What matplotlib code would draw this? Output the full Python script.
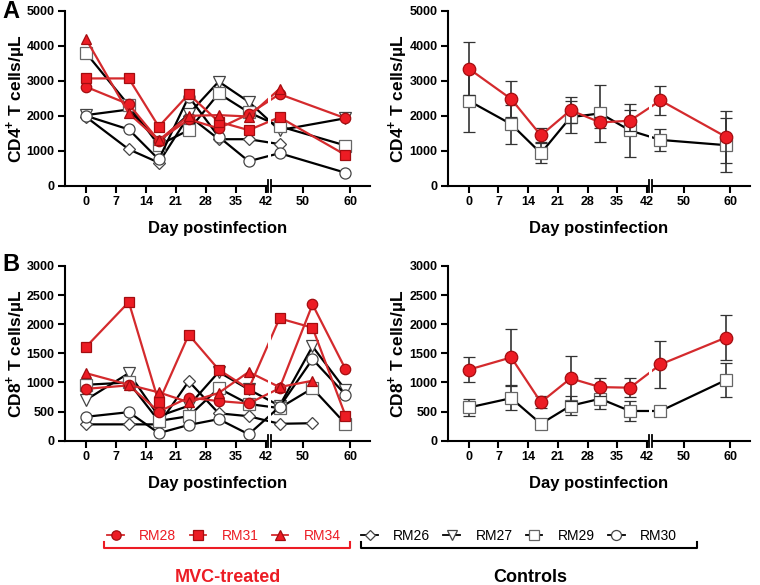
import numpy as np
import matplotlib
matplotlib.use('Agg')
import matplotlib.pyplot as plt
from matplotlib.lines import Line2D

plt.rcParams['font.family'] = ['Liberation Sans', 'DejaVu Sans']
plt.rcParams['mathtext.fontset'] = 'custom'
plt.rcParams['mathtext.rm'] = 'Liberation Sans'
plt.rcParams['mathtext.bf'] = 'Liberation Sans:bold'

# days sampled
days_a = [0, 10, 17, 24, 31, 38, 45, 59]
days_b = [0, 10, 17, 24, 31, 38, 45, 52, 59]
days_mean = [0, 10, 17, 24, 31, 38, 45, 59]
xticks = [0, 7, 14, 21, 28, 35, 42, 50, 60]

# CD4 per animal (panel A left)
cd4_rm28 = [2830, 2330, 1290, 1900, 1640, 2050, 2620, 1930]
cd4_rm31 = [3070, 3070, 1690, 2620, 1830, 1590, 1960, 880]
cd4_rm34 = [4200, 2070, 1300, 2000, 2020, 1980, 2770, np.nan]
cd4_rm26 = [1970, 1040, 660, 2000, 1330, 1330, 1190, np.nan]
cd4_rm27 = [2020, 2180, 1250, 2050, 2980, 2400, 1590, 1930]
cd4_rm29 = [3800, 2300, 1160, 1590, 2640, 2100, 1700, 1150]
cd4_rm30 = [2000, 1610, 750, 2550, 1400, 700, 930, 370]

# CD4 group means (panel A right)
cd4_mvc_mean = [3350, 2480, 1440, 2160, 1810, 1860, 2440, 1400]
cd4_mvc_sd = [750, 520, 200, 370, 150, 300, 425, 740]
cd4_ctrl_mean = [2430, 1760, 930, 1960, 2070, 1580, 1310, 1160]
cd4_ctrl_sd = [900, 560, 290, 450, 815, 750, 320, 780]

# CD8 per animal (panel B left)
cd8_rm28 = [890, 950, 500, 740, 680, 640, 900, 2340, 1230]
cd8_rm31 = [1610, 2380, 660, 1820, 1220, 890, 2100, 1940, 430]
cd8_rm34 = [1160, 960, 830, 660, 820, 1180, 920, 1030, np.nan]
cd8_rm26 = [280, 280, 280, 1020, 470, 420, 290, 300, np.nan]
cd8_rm27 = [700, 1160, 420, 600, 1180, 880, 600, 1620, 870]
cd8_rm29 = [960, 1000, 340, 420, 900, 630, 560, 900, 290]
cd8_rm30 = [410, 490, 130, 270, 370, 110, 580, 1400, 790]

# CD8 group means (panel B right)
cd8_mvc_mean = [1220, 1430, 660, 1070, 920, 910, 1310, 1770]
cd8_mvc_sd = [210, 480, 100, 380, 150, 160, 400, 380]
cd8_ctrl_mean = [570, 730, 290, 600, 720, 510, 510, 1040]
cd8_ctrl_sd = [150, 210, 90, 160, 170, 170, 0, 290]

RED = '#ec1c24'
REDLINE = '#d42a2d'
REDEDGE = '#a30d10'

sty = {
    'RM28': dict(marker='o', ms=7.5, mfc=RED, mec=REDEDGE, color=REDLINE),
    'RM31': dict(marker='s', ms=7.5, mfc=RED, mec=REDEDGE, color=REDLINE),
    'RM34': dict(marker='^', ms=7.5, mfc=RED, mec=REDEDGE, color=REDLINE),
    'RM26': dict(marker='D', ms=6, mfc='white', mec='#444444', color='black'),
    'RM27': dict(marker='v', ms=8, mfc='white', mec='#444444', color='black'),
    'RM29': dict(marker='s', ms=8, mfc='white', mec='#666666', color='black'),
    'RM30': dict(marker='o', ms=8, mfc='white', mec='#444444', color='black'),
}


def fwd(d):
    d = np.asarray(d, dtype=float)
    return np.where(d <= 43, d, 43 + (d - 43) * 1.1)


def inv(p):
    p = np.asarray(p, dtype=float)
    return np.where(p <= 43, p, 43 + (p - 43) / 1.1)


def setup(ax, ymax, ystep, ylabel, labx):
    ax.set_xscale('function', functions=(fwd, inv))
    ax.set_xlim(-4.9, 64.2)
    ax.set_ylim(0, ymax)
    ax.set_xticks(xticks)
    ax.set_xticklabels([str(t) for t in xticks])
    ax.set_yticks(np.arange(0, ymax + 1, ystep))
    ax.minorticks_off()
    for s in ['top', 'right']:
        ax.spines[s].set_visible(False)
    for s in ['left', 'bottom']:
        ax.spines[s].set_linewidth(1.5)
    ax.tick_params(direction='out', length=5, width=1.5, labelsize=9, pad=2.5)
    for lbl in ax.get_xticklabels() + ax.get_yticklabels():
        lbl.set_fontweight('bold')
    ax.set_xlabel('Day postinfection', fontsize=12, fontweight='bold', labelpad=9)
    ax.set_ylabel(ylabel, fontsize=12.5, fontweight='bold')
    ax.yaxis.set_label_coords(labx, 0.5)
    # axis break
    ax.axvspan(42.4, 43.2, ymin=-0.02, ymax=1, color='white', zorder=3, clip_on=False, lw=0)
    for xb in [42.4, 43.2]:
        ax.plot([xb, xb], [-0.035, 0.035], transform=ax.get_xaxis_transform(),
                color='black', lw=1.3, clip_on=False, zorder=4)


def individual(ax, days, data):
    for name in ['RM26', 'RM27', 'RM29', 'RM30', 'RM28', 'RM31', 'RM34']:
        ax.plot(days, data[name], lw=1.6, mew=0.9, zorder=2, **sty[name])


def means(ax, m_mean, m_sd, c_mean, c_sd):
    ax.errorbar(days_mean, c_mean, yerr=c_sd, color='black', lw=1.6, marker='s', ms=9,
                mfc='white', mec='#666666', mew=0.9, ecolor='#333333', elinewidth=1.2,
                capsize=4, capthick=1.2, zorder=2)
    ax.errorbar(days_mean, m_mean, yerr=m_sd, color=REDLINE, lw=1.6, marker='o', ms=9,
                mfc=RED, mec=REDEDGE, mew=0.9, ecolor='#333333', elinewidth=1.2,
                capsize=4, capthick=1.2, zorder=2.2)


fig = plt.figure(figsize=(7.6, 5.85), dpi=100)
ax1 = fig.add_axes([0.0855, 0.6826, 0.4013, 0.2986])
ax2 = fig.add_axes([0.5895, 0.6826, 0.3974, 0.2986])
ax3 = fig.add_axes([0.0855, 0.2467, 0.4013, 0.2986])
ax4 = fig.add_axes([0.5895, 0.2467, 0.3974, 0.2986])

cd4_lab = r'CD4$^{\mathbf{+}}$ T cells/µL'
cd8_lab = r'CD8$^{\mathbf{+}}$ T cells/µL'

individual(ax1, days_a, {'RM28': cd4_rm28, 'RM31': cd4_rm31, 'RM34': cd4_rm34,
                         'RM26': cd4_rm26, 'RM27': cd4_rm27, 'RM29': cd4_rm29, 'RM30': cd4_rm30})
means(ax2, cd4_mvc_mean, cd4_mvc_sd, cd4_ctrl_mean, cd4_ctrl_sd)
individual(ax3, days_b, {'RM28': cd8_rm28, 'RM31': cd8_rm31, 'RM34': cd8_rm34,
                         'RM26': cd8_rm26, 'RM27': cd8_rm27, 'RM29': cd8_rm29, 'RM30': cd8_rm30})
means(ax4, cd8_mvc_mean, cd8_mvc_sd, cd8_ctrl_mean, cd8_ctrl_sd)

setup(ax1, 5000, 1000, cd4_lab, -0.125)
setup(ax2, 5000, 1000, cd4_lab, -0.128)
setup(ax3, 3000, 500, cd8_lab, -0.125)
setup(ax4, 3000, 500, cd8_lab, -0.128)

fig.text(2 / 760, 1 - 11 / 585, 'A', fontsize=17, fontweight='bold', ha='left', va='center')
fig.text(2 / 760, 1 - 265 / 585, 'B', fontsize=17, fontweight='bold', ha='left', va='center')

# legend
red_names = ['RM28', 'RM31', 'RM34']
ctrl_names = ['RM26', 'RM27', 'RM29', 'RM30']


def handle(name):
    s = dict(sty[name])
    s['ms'] = s['ms'] * 0.9
    return Line2D([], [], lw=1.3, mew=0.9, **s)


leg_kw = dict(loc='center', frameon=False, fontsize=10, handlelength=1.2,
              handletextpad=1.1, columnspacing=0.95, borderpad=0, borderaxespad=0)
lg1 = fig.legend([handle(n) for n in red_names], red_names, ncol=3,
                 bbox_to_anchor=(224 / 760, 1 - 536 / 585), **leg_kw)
for t in lg1.get_texts():
    t.set_color(RED)
lg2 = fig.legend([handle(n) for n in ctrl_names], ctrl_names, ncol=4,
                 bbox_to_anchor=(519 / 760, 1 - 536 / 585), **leg_kw)

fig.add_artist(Line2D(np.array([104, 104, 350, 350]) / 760,
                      1 - np.array([542, 548, 548, 542]) / 585,
                      color=RED, lw=1.5, transform=fig.transFigure))
fig.add_artist(Line2D(np.array([361, 361, 697, 697]) / 760,
                      1 - np.array([542, 548, 548, 542]) / 585,
                      color='black', lw=1.5, transform=fig.transFigure))
fig.text(228 / 760, 1 - 577 / 585, 'MVC-treated', color=RED, fontsize=13,
         fontweight='bold', ha='center', va='center')
fig.text(530 / 760, 1 - 577 / 585, 'Controls', color='black', fontsize=13,
         fontweight='bold', ha='center', va='center')

fig.savefig('out.png', dpi=100)
